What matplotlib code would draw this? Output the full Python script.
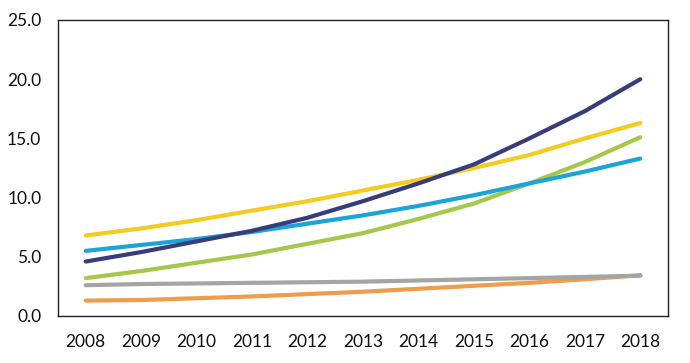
from matplotlib import pyplot as plt

years = ["2008", "2009", "2010", "2011", "2012", "2013", "2014", "2015", "2016", "2017", "2018"]

navy = [4.6, 5.4, 6.3, 7.2, 8.3, 9.7, 11.2, 12.8, 15.0, 17.3, 20.0]
yellow = [6.8, 7.4, 8.1, 8.9, 9.7, 10.6, 11.5, 12.5, 13.6, 15.0, 16.3]
cyan = [5.5, 6.0, 6.5, 7.1, 7.8, 8.5, 9.3, 10.2, 11.2, 12.2, 13.3]
green = [3.2, 3.8, 4.5, 5.2, 6.1, 7.0, 8.2, 9.5, 11.2, 13.0, 15.1]
gray = [2.6, 2.7, 2.75, 2.8, 2.85, 2.9, 3.0, 3.1, 3.2, 3.3, 3.4]
orange = [1.3, 1.35, 1.5, 1.65, 1.85, 2.05, 2.3, 2.55, 2.8, 3.1, 3.45]

plt.rcParams["font.family"] = ["Lato", "DejaVu Sans"]

fig = plt.figure(figsize=(6.9, 3.63), dpi=100)
ax = fig.add_axes([58 / 690, 1 - 316 / 363, 610 / 690, 296 / 363])

x = range(len(years))
ax.plot(x, orange, color="#ED9D4C", lw=3, solid_capstyle="round")
ax.plot(x, gray, color="#A5A5A5", lw=3, solid_capstyle="round")
ax.plot(x, green, color="#A5C84A", lw=3, solid_capstyle="round")
ax.plot(x, cyan, color="#1AA5D8", lw=3, solid_capstyle="round")
ax.plot(x, yellow, color="#F4CB1E", lw=3, solid_capstyle="round")
ax.plot(x, navy, color="#373C7C", lw=3, solid_capstyle="round")

ax.set_xlim(-0.5, len(years) - 0.5)
ax.set_ylim(0, 25)
ax.set_xticks(list(x))
ax.set_xticklabels(years)
ax.set_yticks([0, 5, 10, 15, 20, 25])
ax.set_yticklabels([f"{v:.1f}" for v in [0, 5, 10, 15, 20, 25]])
ax.tick_params(length=0, labelsize=12.5, colors="#111111")
ax.tick_params(axis="y", pad=12)
ax.tick_params(axis="x", pad=13)
for s in ax.spines.values():
    s.set_linewidth(1.0)
    s.set_color("#222222")

plt.savefig("out.png", dpi=100)
plt.close(fig)
